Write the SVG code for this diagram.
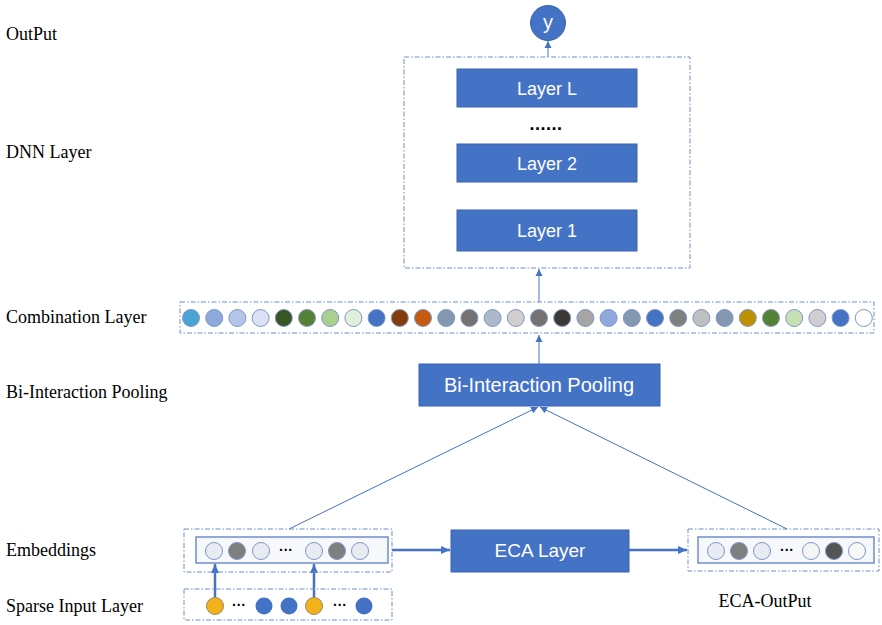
<svg xmlns="http://www.w3.org/2000/svg" width="882" height="625" viewBox="0 0 882 625">
<style>
.lbl{font-family:"Liberation Serif","Times New Roman",serif;font-size:18px;fill:#000}
.box{fill:#4472C4;stroke:#3a64b0;stroke-width:1}
.bt{font-family:"Liberation Sans",Arial,sans-serif;fill:#fff;text-anchor:middle}
.dash{fill:none;stroke:#6f8fcb;stroke-width:1;stroke-dasharray:5 2 1.5 2}
.thin{stroke:#4472C4;stroke-width:1;fill:none}
.thick{stroke:#4472C4;stroke-width:2.5;fill:none}
.c{stroke:#7f97c9;stroke-width:1}
.dots{font-family:"Liberation Sans",Arial,sans-serif;font-weight:bold;fill:#000;text-anchor:middle}
</style>
<defs>
<marker id="ah" markerWidth="8" markerHeight="8" refX="7" refY="4" orient="auto" markerUnits="userSpaceOnUse">
<path d="M0,0.5 L7,4 L0,7.5 z" fill="#4472C4"/>
</marker>
<marker id="ahb" markerWidth="10" markerHeight="10" refX="9" refY="5" orient="auto" markerUnits="userSpaceOnUse">
<path d="M0,1 L9,5 L0,9 z" fill="#4472C4"/>
</marker>
</defs>
<rect width="882" height="625" fill="#fff"/>

<g id="labels">
<text class="lbl" x="6" y="40">OutPut</text>
<text class="lbl" x="6" y="158">DNN Layer</text>
<text class="lbl" x="6" y="323">Combination Layer</text>
<text class="lbl" x="6" y="398">Bi-Interaction Pooling</text>
<text class="lbl" x="6" y="556">Embeddings</text>
<text class="lbl" x="6" y="612">Sparse Input Layer</text>
<text class="lbl" x="765" y="607" text-anchor="middle">ECA-OutPut</text>
</g>

<g id="connectors">
<line class="thin" x1="548" y1="57" x2="548" y2="41" marker-end="url(#ah)"/>
<line class="thin" x1="539" y1="302" x2="539" y2="269" marker-end="url(#ah)"/>
<line class="thin" x1="539" y1="364" x2="539" y2="335" marker-end="url(#ah)"/>
<line class="thin" x1="289" y1="529" x2="538" y2="407" marker-end="url(#ah)"/>
<line class="thin" x1="787" y1="529" x2="540" y2="407" marker-end="url(#ah)"/>
<line class="thick" x1="215" y1="597" x2="215" y2="564" marker-end="url(#ahb)"/>
<line class="thick" x1="314" y1="597" x2="314" y2="564" marker-end="url(#ahb)"/>
<line class="thick" x1="392" y1="550" x2="450" y2="550" marker-end="url(#ahb)"/>
<line class="thick" x1="629" y1="550" x2="687" y2="550" marker-end="url(#ahb)"/>
</g>

<g id="output">
<circle cx="548" cy="23" r="17.5" fill="#4472C4" stroke="#3a64b0"/>
<text class="bt" x="548" y="29" font-size="20">y</text>
</g>

<g id="dnn">
<rect class="dash" x="404" y="57" width="286" height="211"/>
<g id="layerL"><rect class="box" x="457" y="69" width="180" height="38"/><text class="bt" x="547" y="94.5" font-size="18">Layer L</text></g>
<text class="dots" x="546" y="130" font-size="18" letter-spacing="0.5">......</text>
<g id="layer2"><rect class="box" x="457" y="144" width="180" height="38"/><text class="bt" x="547" y="169.5" font-size="18">Layer 2</text></g>
<g id="layer1"><rect class="box" x="457" y="210" width="180" height="41"/><text class="bt" x="547" y="237" font-size="18">Layer 1</text></g>
</g>

<g id="combination">
<rect class="dash" x="180" y="302" width="694" height="31"/>
<circle class="c" cx="191" cy="318" r="8.5" fill="#4BA3D3"/>
<circle class="c" cx="214.2" cy="318" r="8.5" fill="#8EA9DB"/>
<circle class="c" cx="237.4" cy="318" r="8.5" fill="#B4C6E7"/>
<circle class="c" cx="260.6" cy="318" r="8.5" fill="#D9E1F2"/>
<circle class="c" cx="283.8" cy="318" r="8.5" fill="#375623"/>
<circle class="c" cx="307" cy="318" r="8.5" fill="#548235"/>
<circle class="c" cx="330.2" cy="318" r="8.5" fill="#A9D08E"/>
<circle class="c" cx="353.4" cy="318" r="8.5" fill="#E2EFDA"/>
<circle class="c" cx="376.6" cy="318" r="8.5" fill="#4472C4"/>
<circle class="c" cx="399.8" cy="318" r="8.5" fill="#843C0C"/>
<circle class="c" cx="423" cy="318" r="8.5" fill="#C55A11"/>
<circle class="c" cx="446.2" cy="318" r="8.5" fill="#8497B0"/>
<circle class="c" cx="469.4" cy="318" r="8.5" fill="#767171"/>
<circle class="c" cx="492.6" cy="318" r="8.5" fill="#ADB9CA"/>
<circle class="c" cx="515.8" cy="318" r="8.5" fill="#D0CECE"/>
<circle class="c" cx="539" cy="318" r="8.5" fill="#767171"/>
<circle class="c" cx="562.2" cy="318" r="8.5" fill="#3B3838"/>
<circle class="c" cx="585.4" cy="318" r="8.5" fill="#A5A5A5"/>
<circle class="c" cx="608.6" cy="318" r="8.5" fill="#8EA9DB"/>
<circle class="c" cx="631.8" cy="318" r="8.5" fill="#8497B0"/>
<circle class="c" cx="655" cy="318" r="8.5" fill="#4472C4"/>
<circle class="c" cx="678.2" cy="318" r="8.5" fill="#7F7F7F"/>
<circle class="c" cx="701.4" cy="318" r="8.5" fill="#BFBFBF"/>
<circle class="c" cx="724.6" cy="318" r="8.5" fill="#8497B0"/>
<circle class="c" cx="747.8" cy="318" r="8.5" fill="#BF9000"/>
<circle class="c" cx="771" cy="318" r="8.5" fill="#548235"/>
<circle class="c" cx="794.2" cy="318" r="8.5" fill="#C5E0B4"/>
<circle class="c" cx="817.4" cy="318" r="8.5" fill="#D0CECE"/>
<circle class="c" cx="840.6" cy="318" r="8.5" fill="#4472C4"/>
<circle class="c" cx="863.8" cy="318" r="8.5" fill="#FFFFFF"/>
</g>

<g id="bipool">
<rect class="box" x="419" y="364" width="241" height="42"/>
<text class="bt" x="539" y="392" font-size="20">Bi-Interaction Pooling</text>
</g>

<g id="embeddings">
<rect class="dash" x="184" y="529" width="208" height="43"/>
<rect x="196" y="537" width="192" height="26" fill="#F7F8FB" stroke="#6f8fcb" stroke-width="1.5"/>
<circle class="c" cx="214" cy="551" r="8.5" fill="#E9EBF2"/>
<circle class="c" cx="237" cy="551" r="8.5" fill="#7F7F7F"/>
<circle class="c" cx="261" cy="551" r="8.5" fill="#E9EBF2"/>
<text class="dots" x="286" y="555" font-size="14">···</text>
<circle class="c" cx="314" cy="551" r="8.5" fill="#E9EBF2"/>
<circle class="c" cx="337" cy="551" r="8.5" fill="#7F7F7F"/>
<circle class="c" cx="360" cy="551" r="8.5" fill="#E9EBF2"/>
</g>

<g id="sparse">
<rect class="dash" x="184" y="589" width="208" height="31"/>
<circle cx="215" cy="606" r="8.5" fill="#F3B21B" stroke="#9a8a60" stroke-width="1"/>
<text class="dots" x="239" y="610" font-size="14">···</text>
<circle cx="264" cy="606" r="8.5" fill="#4472C4"/>
<circle cx="289" cy="606" r="8.5" fill="#4472C4"/>
<circle cx="314" cy="606" r="8.5" fill="#F3B21B" stroke="#9a8a60" stroke-width="1"/>
<text class="dots" x="340" y="610" font-size="14">···</text>
<circle cx="364" cy="606" r="8.5" fill="#4472C4"/>
</g>

<g id="eca">
<rect class="box" x="451" y="530" width="178" height="42"/>
<text class="bt" x="540" y="557" font-size="19">ECA Layer</text>
</g>

<g id="ecaout">
<rect class="dash" x="688" y="529" width="191" height="42"/>
<rect x="698" y="537" width="176" height="26" fill="#F7F8FB" stroke="#6f8fcb" stroke-width="1.5"/>
<circle class="c" cx="716" cy="551" r="8.5" fill="#E9EBF2"/>
<circle class="c" cx="739" cy="551" r="8.5" fill="#7F7F7F"/>
<circle class="c" cx="762" cy="551" r="8.5" fill="#E9EBF2"/>
<text class="dots" x="787" y="555" font-size="14">···</text>
<circle class="c" cx="811" cy="551" r="8.5" fill="#F4F4F4"/>
<circle class="c" cx="834" cy="551" r="8.5" fill="#555555"/>
<circle class="c" cx="857" cy="551" r="8.5" fill="#F8F8F8"/>
</g>
</svg>
